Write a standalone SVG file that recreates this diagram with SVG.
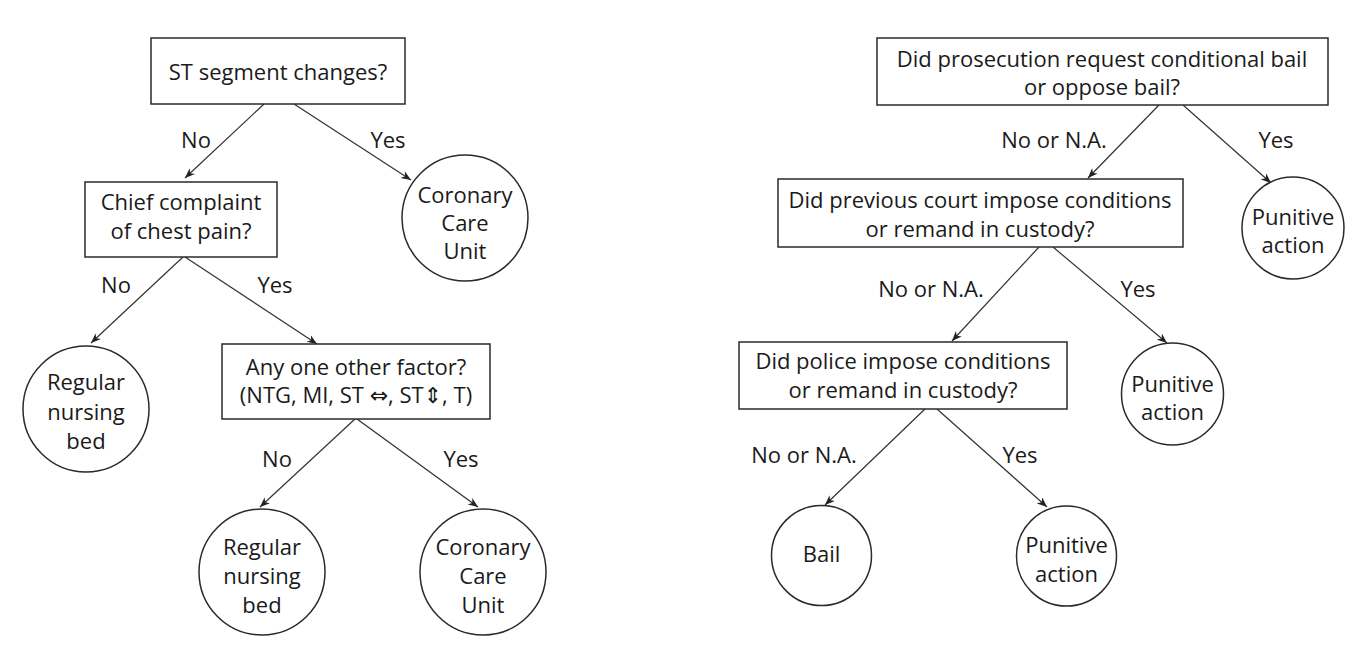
<svg xmlns="http://www.w3.org/2000/svg" width="1366" height="650" viewBox="0 0 1366 650">
<style>
  .box{fill:#fff;stroke:#2a2a2a;stroke-width:1.5}
  .node circle{fill:#fff;stroke:#2a2a2a;stroke-width:1.5}
  text{font-family:"Open Sans","Noto Sans","DejaVu Sans",sans-serif;font-size:22px;fill:#1a1a1a;text-anchor:middle}
  .edge{stroke:#333;stroke-width:1.2;fill:none;marker-end:url(#ah)}
</style>
<defs>
  <marker id="ah" viewBox="0 0 10 8" refX="10" refY="4" markerWidth="11" markerHeight="8" markerUnits="userSpaceOnUse" orient="auto">
    <path d="M0,0 L10,4 L0,8 L3,4 z" fill="#222"/>
  </marker>
</defs>
<rect width="1366" height="650" fill="#fff"/>

<g id="connectors">
  <line class="edge" x1="264" y1="104" x2="185" y2="178"/>
  <line class="edge" x1="294" y1="104" x2="411" y2="180"/>
  <line class="edge" x1="183" y1="257" x2="91" y2="343"/>
  <line class="edge" x1="185" y1="257" x2="317" y2="344"/>
  <line class="edge" x1="355" y1="419" x2="260" y2="507"/>
  <line class="edge" x1="357" y1="419" x2="478" y2="507"/>
  <line class="edge" x1="1159" y1="105" x2="1088" y2="178"/>
  <line class="edge" x1="1183" y1="105" x2="1271" y2="183"/>
  <line class="edge" x1="1039" y1="247" x2="952" y2="341"/>
  <line class="edge" x1="1053" y1="247" x2="1167" y2="343"/>
  <line class="edge" x1="925" y1="409" x2="825" y2="505"/>
  <line class="edge" x1="937" y1="409" x2="1047" y2="507"/>
  <text x="196" y="148">No</text>
  <text x="388" y="148">Yes</text>
  <text x="116" y="293">No</text>
  <text x="275" y="293">Yes</text>
  <text x="277" y="467">No</text>
  <text x="461" y="467">Yes</text>
  <text x="1054" y="148">No or N.A.</text>
  <text x="1276" y="148">Yes</text>
  <text x="931" y="297">No or N.A.</text>
  <text x="1138" y="297">Yes</text>
  <text x="804" y="463">No or N.A.</text>
  <text x="1020" y="463">Yes</text>
</g>

<g id="st-changes" class="node">
  <rect class="box" x="151" y="38" width="254" height="66"/>
  <text x="278" y="80">ST segment changes?</text>
</g>
<g id="chief-complaint" class="node">
  <rect class="box" x="85" y="182" width="192" height="75"/>
  <text x="181" y="210">Chief complaint</text>
  <text x="181" y="239">of chest pain?</text>
</g>
<g id="ccu-1" class="node">
  <circle cx="465" cy="218" r="63"/>
  <text x="465" y="203">Coronary</text>
  <text x="465" y="231">Care</text>
  <text x="465" y="259">Unit</text>
</g>
<g id="rnb-1" class="node">
  <circle cx="86" cy="409" r="63"/>
  <text x="86" y="390">Regular</text>
  <text x="86" y="420">nursing</text>
  <text x="86" y="449">bed</text>
</g>
<g id="other-factor" class="node">
  <rect class="box" x="222" y="344" width="268" height="75"/>
  <text x="356" y="375">Any one other factor?</text>
  <text x="356" y="403">(NTG, MI, ST ⇔, ST⇕, T)</text>
</g>
<g id="rnb-2" class="node">
  <circle cx="262" cy="572" r="63"/>
  <text x="262" y="555">Regular</text>
  <text x="262" y="584">nursing</text>
  <text x="262" y="613">bed</text>
</g>
<g id="ccu-2" class="node">
  <circle cx="483" cy="572" r="63"/>
  <text x="483" y="555">Coronary</text>
  <text x="483" y="584">Care</text>
  <text x="483" y="613">Unit</text>
</g>

<g id="prosecution" class="node">
  <rect class="box" x="877" y="38" width="451" height="67"/>
  <text x="1102" y="67">Did prosecution request conditional bail</text>
  <text x="1102" y="95">or oppose bail?</text>
</g>
<g id="punitive-1" class="node">
  <circle cx="1293" cy="228" r="51"/>
  <text x="1293" y="225">Punitive</text>
  <text x="1293" y="253">action</text>
</g>
<g id="previous-court" class="node">
  <rect class="box" x="778" y="179" width="405" height="68"/>
  <text x="980" y="208">Did previous court impose conditions</text>
  <text x="980" y="237">or remand in custody?</text>
</g>
<g id="punitive-2" class="node">
  <circle cx="1172.5" cy="394" r="51"/>
  <text x="1172.5" y="392">Punitive</text>
  <text x="1172.5" y="420">action</text>
</g>
<g id="police" class="node">
  <rect class="box" x="739" y="342" width="328" height="67"/>
  <text x="903" y="369">Did police impose conditions</text>
  <text x="903" y="398">or remand in custody?</text>
</g>
<g id="bail" class="node">
  <circle cx="821.5" cy="555.5" r="50"/>
  <text x="821.5" y="562">Bail</text>
</g>
<g id="punitive-3" class="node">
  <circle cx="1066.5" cy="556" r="50"/>
  <text x="1066.5" y="553">Punitive</text>
  <text x="1066.5" y="582">action</text>
</g>
</svg>
